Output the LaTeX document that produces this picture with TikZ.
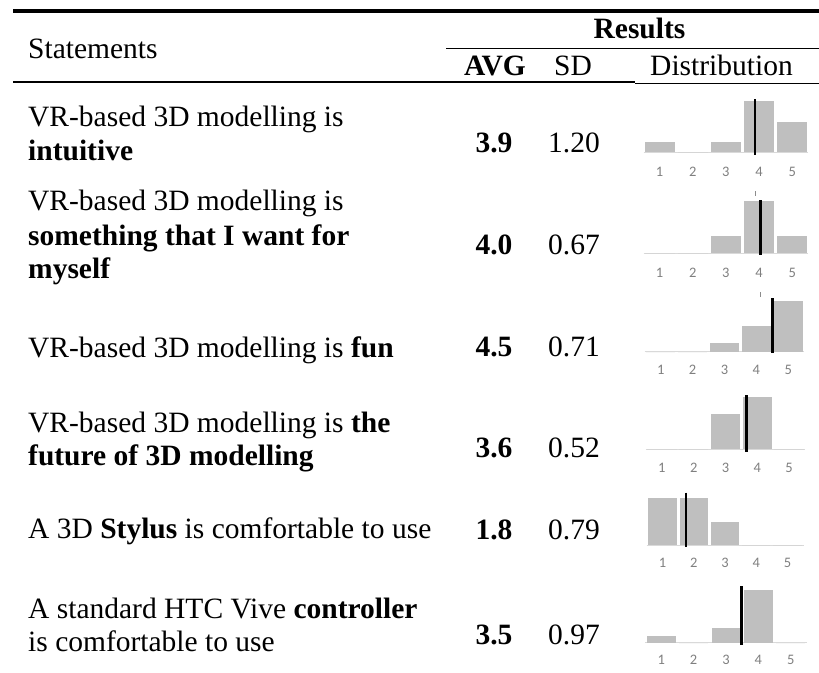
\documentclass[tikz,border=0pt]{standalone}
\usepackage{fontspec}
\setmainfont{Liberation Serif}
\newfontfamily\calfont{Carlito}
\definecolor{barc}{HTML}{BFBFBF}
\definecolor{axc}{HTML}{D9D9D9}
\definecolor{labc}{HTML}{7F7F7F}
\tikzset{
  stmt/.style={anchor=base west, inner sep=0pt, font=\fontsize{29.5}{33}\selectfont},
  num/.style={anchor=base, inner sep=0pt, font=\fontsize{29.5}{33}\selectfont},
  numb/.style={anchor=base, inner sep=0pt, font=\fontsize{29.5}{33}\selectfont\bfseries},
  ticklab/.style={anchor=base, inner sep=0pt, font=\calfont\fontsize{14.5}{16}\selectfont, text=labc},
  bar/.style={fill=barc, draw=none},
  axisline/.style={draw=axc, line width=1pt},
  avgline/.style={draw=black, line width=2.5pt},
  stub/.style={draw=black!45, line width=0.8pt},
  toprule/.style={line width=4pt},
  midrule/.style={line width=2.5pt},
  thinrule/.style={line width=1.2pt},
}
\begin{document}
\begin{tikzpicture}[x=1pt, y=-1pt]
\useasboundingbox (0,0) rectangle (819,672);
% rules
\coordinate (r1a) at (13,11.3);  \coordinate (r1b) at (819,11.3);
\coordinate (r2a) at (446,48.3); \coordinate (r2b) at (819,48.3);
\coordinate (r3a) at (13,82.2);  \coordinate (r3b) at (635,82.2);
\coordinate (r4a) at (635,83);   \coordinate (r4b) at (819,83);
\draw[toprule] (r1a) -- (r1b);
\draw[thinrule] (r2a) -- (r2b);
\draw[midrule] (r3a) -- (r3b);
\draw[line width=1pt] (r4a) -- (r4b);
% header
\node[stmt] (hst) at (28,58.3) {Statements};
\node[numb] (hres) at (639.5,38.3) {Results};
\node[numb] (havg) at (495,75) {AVG};
\node[num] (hsd) at (573,75) {SD};
\node[num] (hdist) at (721.5,75) {Distribution};
% statements
\node[stmt] (s1a) at (28,126) {VR-based 3D modelling is};
\node[stmt] (s1b) at (28,160) {\textbf{intuitive}};
\node[stmt] (s2a) at (28,210) {VR-based 3D modelling is};
\node[stmt] (s2b) at (28,245) {\textbf{something that I want for}};
\node[stmt] (s2c) at (28,278.3) {\textbf{myself}};
\node[stmt] (s3a) at (28,357) {VR-based 3D modelling is \textbf{fun}};
\node[stmt] (s4a) at (28,432) {VR-based 3D modelling is \textbf{the}};
\node[stmt] (s4b) at (28,465) {\textbf{future of 3D modelling}};
\node[stmt] (s5a) at (28,538.5) {A 3D \textbf{Stylus} is comfortable to use};
\node[stmt] (s6a) at (28,618.3) {A standard HTC Vive \textbf{controller}};
\node[stmt] (s6b) at (28,651.7) {is comfortable to use};
% numbers
\foreach \r/\y/\a/\s in {1/152.8/3.9/1.20, 2/254.8/4.0/0.67, 3/356.8/4.5/0.71, 4/457.8/3.6/0.52, 5/539.5/1.8/0.79, 6/644.8/3.5/0.97}{
  \node[numb] (avg\r) at (494,\y) {\a};
  \node[num] (sd\r) at (574,\y) {\s};
}
% distribution charts
\foreach \c/\xa/\p/\w/\yb/\yl/\hs/\lx/\lt/\lb in {
  1/659.5/33.2/30/152.3/176.3/{10,0,10,51,30}/755/99/155,
  2/659.5/33.2/30/253.3/277.3/{0,0,17.3,52.3,17.3}/760.7/200/255,
  3/660.7/31.9/29/351.7/374.6/{0,0,8.3,25.7,50.7}/772.3/298.3/353,
  4/661.9/31.8/29.5/449.3/472.9/{0,0,35,52,0}/746.7/395/451.7,
  5/662.5/31.25/28.4/545/567.3/{46.7,46.7,23.3,0,0}/686/492.7/546.7,
  6/661.2/32.4/29/642.7/664.6/{7,0,14.3,52.7,0}/741.7/586/645}{
  \draw[axisline] ({\xa-16},\yb) -- ({\xa+4*\p+16},\yb);
  \foreach \h [count=\i] in \hs {
    \fill[bar] ({\xa+(\i-1)*\p-\w/2},\yb) rectangle ++(\w,-\h);
    \node[ticklab] (t\c-\i) at ({\xa+(\i-1)*\p},\yl) {\i};
  }
  \draw[avgline] (\lx,\lt) -- (\lx,\lb);
}
% small stray marks below the first two charts
\coordinate (m1a) at (755,191); \coordinate (m1b) at (755,196);
\coordinate (m2a) at (760.7,292); \coordinate (m2b) at (760.7,297);
\draw[stub] (m1a) -- (m1b);
\draw[stub] (m2a) -- (m2b);
\end{tikzpicture}
\end{document}
